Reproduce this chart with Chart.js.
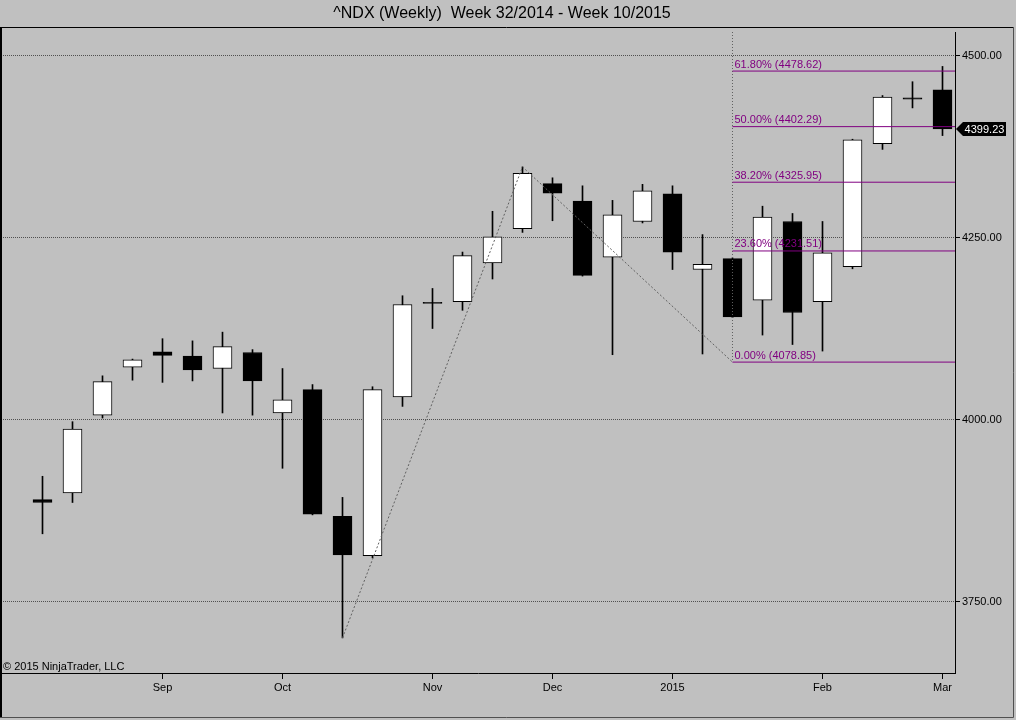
<!DOCTYPE html>
<html>
<head>
<meta charset="utf-8">
<title>^NDX (Weekly)</title>
<script src="https://cdn.jsdelivr.net/npm/chart.js@4.4.1/dist/chart.umd.min.js"></script>
<style>
  html, body { margin: 0; padding: 0; background: #c0c0c0; }
  canvas { display: block; }
</style>
</head>
<body>
<canvas id="chart" width="1016" height="720"></canvas>
<script>
// weekly bars, week 32/2014 .. week 10/2015
const weeks = [
  '2014-08-04', '2014-08-11', '2014-08-18', '2014-08-25', '2014-09-01', '2014-09-08',
  '2014-09-15', '2014-09-22', '2014-09-29', '2014-10-06', '2014-10-13', '2014-10-20',
  '2014-10-27', '2014-11-03', '2014-11-10', '2014-11-17', '2014-11-24', '2014-12-01',
  '2014-12-08', '2014-12-15', '2014-12-22', '2014-12-29', '2015-01-05', '2015-01-12',
  '2015-01-19', '2015-01-26', '2015-02-02', '2015-02-09', '2015-02-16', '2015-02-23',
  '2015-03-02'
]
const opens  = [3890, 3899, 4006, 4072, 4093, 4087, 4070, 4092, 4009, 4041, 3867, 3813, 4031, 4161, 4162, 4215,
                4262, 4324, 4300, 4223, 4272, 4310, 4206, 4221, 4164, 4272, 4162, 4210, 4379, 4442, 4453]
const highs  = [3922, 3997, 4060, 4083, 4111, 4108, 4120, 4096, 4070, 4048, 3893, 4045, 4170, 4180, 4230, 4286,
                4347, 4332, 4321, 4301, 4323, 4321, 4254, 4222, 4293, 4283, 4272, 4385, 4445, 4464, 4485]
const lows   = [3843, 3886, 4002, 4054, 4051, 4053, 4009, 4006, 3933, 3869, 3700, 3810, 4018, 4125, 4150, 4193,
                4257, 4273, 4197, 4089, 4270, 4206, 4090, 4140, 4116, 4103, 4094, 4207, 4371, 4428, 4390]
const closes = [3886, 3987, 4052, 4082, 4088, 4068, 4100, 4053, 4027, 3870, 3814, 4041, 4158, 4159.5, 4225, 4251,
                4338, 4311, 4198, 4281, 4314, 4230, 4213, 4141, 4278, 4147, 4229, 4384, 4443, 4440, 4399.23]

const monthTickIdx = [4, 8, 13, 17, 21, 26, 30]
const monthLabels = ['Sep', 'Oct', 'Nov', 'Dec', '2015', 'Feb', 'Mar']
const priceTicks = [3750, 4000, 4250, 4500]

// fibonacci drawing
const fibStartIdx = 23
const fibLevels = [0, 23.6, 38.2, 50, 61.8]
const fibPrices = [4078.85, 4231.51, 4325.95, 4402.29, 4478.62]

// view range
const xMin = -1.38333
const xMax = 30.41667
const yMin = 3651.79
const yMax = 4532.28

const FONT = "'Liberation Sans', Arial, sans-serif"
const PURPLE = '#800080'

const bodyData = opens.map((o, i) => ({ x: i, y: [o, closes[i]] }))
const wickData = lows.map((l, i) => ({ x: i, y: [l, highs[i]] }))
const bodyColors = opens.map((o, i) => closes[i] >= o ? '#ffffff' : '#000000')

const fibDatasets = fibPrices.map(p => ({
  type: 'line',
  data: [{ x: fibStartIdx, y: p }, { x: xMax, y: p }],
  borderColor: PURPLE,
  borderWidth: 1,
  pointRadius: 0,
  fill: false,
  order: 0
}))

const chartDecor = {
  id: 'chartDecor',
  afterDraw(chart) {
    const { ctx, chartArea, scales } = chart
    ctx.save()

    // title
    ctx.fillStyle = '#000'
    ctx.font = '16px ' + FONT
    ctx.textAlign = 'center'
    ctx.textBaseline = 'middle'
    ctx.fillText('^NDX (Weekly)  Week 32/2014 - Week 10/2015', 502, 14)

    // frame
    ctx.strokeStyle = '#000'
    ctx.lineWidth = 1
    ctx.beginPath()
    ctx.moveTo(0, 27.5); ctx.lineTo(1013, 27.5)
    ctx.stroke()
    ctx.lineWidth = 2
    ctx.beginPath()
    ctx.moveTo(1, 27); ctx.lineTo(1, 718)
    ctx.stroke()
    ctx.lineWidth = 1
    ctx.strokeStyle = '#505050'
    ctx.beginPath()
    ctx.moveTo(0, 717.5); ctx.lineTo(1013.5, 717.5); ctx.lineTo(1013.5, 27)
    ctx.stroke()

    // fib labels
    ctx.font = '11px ' + FONT
    ctx.textAlign = 'left'
    ctx.textBaseline = 'bottom'
    ctx.fillStyle = PURPLE
    const fx = scales.x.getPixelForValue(fibStartIdx) + 2
    fibLevels.forEach((lvl, i) => {
      const y = scales.y.getPixelForValue(fibPrices[i])
      ctx.fillText(lvl.toFixed(2) + '% (' + fibPrices[i].toFixed(2) + ')', fx, y - 1)
    })

    // copyright
    ctx.fillStyle = '#000'
    ctx.textBaseline = 'alphabetic'
    ctx.fillText('\u00a9 2015 NinjaTrader, LLC', 3, chartArea.bottom - 3)

    // last price tag
    const last = closes[closes.length - 1]
    const ly = Math.round(scales.y.getPixelForValue(last))
    const ax = chartArea.right + 1
    ctx.fillStyle = '#000'
    ctx.beginPath()
    ctx.moveTo(ax, ly)
    ctx.lineTo(ax + 7, ly - 7)
    ctx.lineTo(1006, ly - 7)
    ctx.lineTo(1006, ly + 7)
    ctx.lineTo(ax + 7, ly + 7)
    ctx.closePath()
    ctx.fill()
    ctx.fillStyle = '#fff'
    ctx.textAlign = 'center'
    ctx.textBaseline = 'middle'
    ctx.fillText(last.toFixed(2), 984.5, ly + 1)

    ctx.restore()
  }
}

new Chart(document.getElementById('chart'), {
  type: 'bar',
  data: {
    datasets: [
      ...fibDatasets,
      {
        type: 'line',
        data: [{ x: 10, y: lows[10] }, { x: 16, y: highs[16] }, { x: fibStartIdx, y: fibPrices[0] }],
        borderColor: '#606060',
        borderWidth: 1,
        borderDash: [2, 2],
        pointRadius: 0,
        fill: false,
        order: 0
      },
      {
        type: 'line',
        data: [{ x: fibStartIdx, y: yMax }, { x: fibStartIdx, y: fibPrices[0] }],
        borderColor: '#606060',
        borderWidth: 1,
        borderDash: [1, 2],
        pointRadius: 0,
        fill: false,
        order: 0
      },
      {
        label: 'Body',
        data: bodyData,
        backgroundColor: bodyColors,
        borderColor: '#000000',
        borderWidth: 1,
        borderSkipped: false,
        barThickness: 19,
        minBarLength: 1,
        grouped: false,
        order: 1
      },
      {
        label: 'Wick',
        data: wickData,
        backgroundColor: '#000000',
        borderWidth: 0,
        barThickness: 1,
        grouped: false,
        order: 2
      }
    ]
  },
  options: {
    responsive: false,
    animation: false,
    events: [],
    layout: {
      padding: { left: 1, top: 32, right: 0, bottom: 0 }
    },
    plugins: {
      legend: { display: false },
      tooltip: { enabled: false },
      title: { display: false }
    },
    scales: {
      x: {
        type: 'linear',
        offset: false,
        min: xMin,
        max: xMax,
        afterFit(scale) { scale.height = 47 },
        afterBuildTicks(scale) {
          scale.ticks = monthTickIdx.map(v => ({ value: v }))
        },
        ticks: {
          autoSkip: false,
          maxRotation: 0,
          padding: 2,
          color: '#000',
          font: { family: FONT, size: 11 },
          callback: (v) => monthLabels[monthTickIdx.indexOf(v)]
        },
        grid: {
          offset: false,
          drawOnChartArea: false,
          drawTicks: true,
          tickLength: 6,
          tickColor: '#000'
        },
        border: { display: true, color: '#000', width: 1 }
      },
      y: {
        position: 'right',
        min: yMin,
        max: yMax,
        beginAtZero: false,
        afterFit(scale) { scale.width = 61 },
        afterBuildTicks(scale) {
          scale.ticks = priceTicks.map(v => ({ value: v }))
        },
        ticks: {
          padding: 2,
          color: '#000',
          font: { family: FONT, size: 11 },
          callback: (v) => Number(v).toFixed(2)
        },
        grid: {
          color: '#505050',
          lineWidth: 1,
          tickLength: 5,
          tickColor: '#000',
          tickBorderDash: []
        },
        border: { display: true, color: '#000', width: 1, dash: [1, 1] }
      }
    }
  },
  plugins: [chartDecor]
})
</script>
</body>
</html>
